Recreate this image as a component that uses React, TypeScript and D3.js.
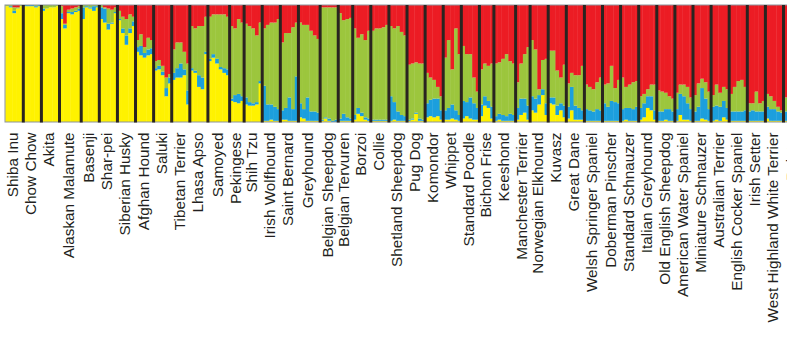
import React from 'react';
import * as d3 from 'd3';

const breeds = [
  'Shiba Inu', 'Chow Chow', 'Akita', 'Alaskan Malamute', 'Basenji', 'Shar-pei', 'Siberian Husky',
  'Afghan Hound', 'Saluki', 'Tibetan Terrier', 'Lhasa Apso', 'Samoyed', 'Pekingese', 'Shih Tzu',
  'Irish Wolfhound', 'Saint Bernard', 'Greyhound', 'Belgian Sheepdog', 'Belgian Tervuren', 'Borzoi',
  'Collie', 'Shetland Sheepdog', 'Pug Dog', 'Komondor', 'Whippet', 'Standard Poodle', 'Bichon Frise',
  'Keeshond', 'Manchester Terrier', 'Norwegian Elkhound', 'Kuvasz', 'Great Dane', 'Welsh Springer Spaniel',
  'Doberman Pinscher', 'Standard Schnauzer', 'Italian Greyhound', 'Old English Sheepdog',
  'American Water Spaniel', 'Miniature Schnauzer', 'Australian Terrier', 'English Cocker Spaniel',
  'Irish Setter', 'West Highland White Terrier', 'Pointer',
];

// per breed, per individual membership in each cluster (stacked bottom → top)
const yellowQ: number[][] = [
  [0.99, 0.98, 0.93, 0.97, 0.99],
  [0.99, 0.99, 0.99, 0.98, 0.99],
  [0.95, 0.97, 0.98, 0.98, 0.99],
  [0.88, 0.8, 0.93, 0.92, 0.94, 0.95],
  [0.88, 0.98, 0.97, 0.95, 0.98],
  [0.88, 0.85, 0.79, 0.84, 0.93],
  [0.87, 0.76, 0.66, 0.76, 0.82],
  [0.6, 0.57, 0.55, 0.57, 0.58],
  [0.44, 0.45, 0.4, 0.22, 0.33],
  [0.36, 0.38, 0.38, 0.4, 0.15],
  [0.44, 0.42, 0.3, 0.28, 0.58],
  [0.52, 0.55, 0.5, 0.45, 0.42, 0.4],
  [0.18, 0.17, 0.16, 0.18],
  [0.15, 0.14, 0.14, 0.15, 0.33],
  [0.01, 0.01, 0.02, 0.01, 0.01],
  [0.02, 0.02, 0.01, 0.01, 0.01],
  [0.04, 0.03, 0.01, 0.01, 0.01, 0.01],
  [0.01, 0.03, 0.01, 0, 0],
  [0.01, 0.01, 0.01, 0.01],
  [0.02, 0.07, 0.05, 0.02, 0.01],
  [0.01, 0.01, 0.01, 0.01, 0.01],
  [0.01, 0.02, 0.01, 0.01, 0.01],
  [0.01, 0.02, 0.07, 0.01, 0.01],
  [0.04, 0.05, 0.04, 0.05, 0.02],
  [0.02, 0.02, 0.03, 0.02, 0.01],
  [0.03, 0.05, 0.03, 0.02, 0.02],
  [0.05, 0.14, 0.12, 0.03],
  [0.01, 0.02, 0.01, 0.01, 0.01, 0.01],
  [0.02, 0.06, 0.08, 0.02],
  [0.1, 0.08, 0.15, 0.23, 0.06],
  [0.16, 0.15, 0.06, 0.1, 0.04],
  [0.03, 0.1, 0.02, 0.02, 0.02],
  [0.01, 0.01, 0.01, 0.01, 0.01],
  [0.01, 0.01, 0.01, 0.01, 0.01],
  [0.01, 0.02, 0.01, 0.01, 0.01],
  [0.02, 0.04, 0.12, 0.1, 0.02],
  [0.01, 0.01, 0.02, 0.01, 0.01],
  [0.01, 0.06, 0.02, 0.02, 0.01],
  [0.01, 0.01, 0.03, 0.02, 0.01],
  [0.01, 0.02, 0.01, 0.04, 0.02],
  [0.01, 0.01, 0.01, 0.01, 0.01],
  [0.01, 0.01, 0.01, 0.01, 0.01],
  [0.03, 0.01, 0.01, 0.01, 0.01],
  [0.01, 0.01, 0.01, 0.01, 0.01],
];

const blueQ: number[][] = [
  [0, 0.01, 0.02, 0, 0],
  [0.01, 0.01, 0.01, 0.01, 0.01],
  [0.02, 0, 0, 0, 0],
  [0.05, 0.03, 0.01, 0.02, 0.01, 0.02],
  [0.1, 0.01, 0.01, 0.04, 0.01],
  [0.1, 0.12, 0.05, 0.01, 0.01],
  [0.01, 0.04, 0.08, 0.04, 0.04],
  [0.04, 0.08, 0.04, 0.05, 0.05],
  [0.02, 0.03, 0.03, 0.07, 0.05],
  [0.06, 0.08, 0.12, 0.05, 0.12],
  [0.02, 0.02, 0.1, 0.1, 0.02],
  [0.02, 0.03, 0.04, 0.02, 0.04, 0.05],
  [0.02, 0.06, 0.08, 0.04],
  [0.06, 0.03, 0.02, 0.02, 0.02],
  [0.3, 0.14, 0.13, 0.12, 0.1],
  [0.08, 0.1, 0.2, 0.1, 0.38],
  [0.12, 0.08, 0.2, 0.08, 0.08, 0.07],
  [0.01, 0.01, 0.02, 0.01, 0.02],
  [0.02, 0.06, 0.03, 0.02],
  [0.04, 0.05, 0.03, 0.02, 0.02],
  [0.01, 0.01, 0.01, 0.01, 0.01],
  [0.21, 0.15, 0.08, 0.05, 0.04],
  [0.01, 0.01, 0.01, 0.02, 0.01],
  [0.12, 0.14, 0.16, 0.15, 0.08],
  [0.08, 0.1, 0.12, 0.08, 0.05],
  [0.15, 0.12, 0.18, 0.14, 0.1],
  [0.1, 0.08, 0.06, 0.1],
  [0.04, 0.05, 0.05, 0.04, 0.06, 0.05],
  [0.1, 0.14, 0.12, 0.12],
  [0.12, 0.12, 0.08, 0.05, 0.1],
  [0.05, 0.06, 0.08, 0.06, 0.1],
  [0.1, 0.2, 0.12, 0.1, 0.08],
  [0.1, 0.09, 0.08, 0.1, 0.09],
  [0.15, 0.12, 0.17, 0.16, 0.15],
  [0.1, 0.1, 0.11, 0.1, 0.12],
  [0.1, 0.12, 0.1, 0.12, 0.08],
  [0.08, 0.08, 0.09, 0.1, 0.08],
  [0.1, 0.18, 0.2, 0.14, 0.1],
  [0.08, 0.12, 0.26, 0.18, 0.1],
  [0.12, 0.12, 0.12, 0.14, 0.1],
  [0.08, 0.08, 0.08, 0.08, 0.09],
  [0.08, 0.09, 0.08, 0.08, 0.08],
  [0.1, 0.1, 0.1, 0.08, 0.07],
  [0.08, 0.07, 0.09, 0.08, 0.08],
];

const greenQ: number[][] = [
  [0.01, 0.01, 0.03, 0.01, 0.01],
  [0, 0, 0, 0.01, 0],
  [0.03, 0.03, 0.02, 0.02, 0.01],
  [0.06, 0.01, 0.02, 0.03, 0.03, 0.02],
  [0.02, 0.01, 0.02, 0.01, 0.01],
  [0.02, 0.01, 0.13, 0.11, 0.04],
  [0.07, 0.1, 0.14, 0.12, 0.04],
  [0.06, 0.1, 0.05, 0.1, 0.07],
  [0.06, 0.05, 0.05, 0.09, 0.03],
  [0.2, 0.22, 0.18, 0.15, 0.23],
  [0.36, 0.36, 0.42, 0.44, 0.3],
  [0.36, 0.34, 0.38, 0.45, 0.46, 0.45],
  [0.62, 0.57, 0.64, 0.63],
  [0.63, 0.65, 0.64, 0.57, 0.5],
  [0.49, 0.68, 0.7, 0.72, 0.77],
  [0.58, 0.64, 0.55, 0.7, 0.46],
  [0.69, 0.72, 0.62, 0.69, 0.65, 0.63],
  [0.96, 0.94, 0.95, 0.97, 0.96],
  [0.9, 0.8, 0.84, 0.86],
  [0.74, 0.6, 0.67, 0.66, 0.75],
  [0.76, 0.78, 0.78, 0.79, 0.81],
  [0.6, 0.63, 0.73, 0.71, 0.69],
  [0.47, 0.47, 0.43, 0.47, 0.48],
  [0.26, 0.19, 0.16, 0.1, 0.12],
  [0.45, 0.58, 0.3, 0.7, 0.52],
  [0.47, 0.41, 0.37, 0.22, 0.14],
  [0.3, 0.28, 0.3, 0.37],
  [0.45, 0.44, 0.48, 0.53, 0.45, 0.44],
  [0.22, 0.3, 0.38, 0.5],
  [0.48, 0.42, 0.05, 0.25, 0.38],
  [0.4, 0.4, 0.3, 0.22, 0.35],
  [0.2, 0.12, 0.26, 0.28, 0.38],
  [0.21, 0.2, 0.19, 0.23, 0.28],
  [0.16, 0.2, 0.3, 0.12, 0.2],
  [0.27, 0.18, 0.2, 0.23, 0.22],
  [0.1, 0.08, 0.06, 0.1, 0.22],
  [0.18, 0.17, 0.14, 0.11, 0.11],
  [0.14, 0.08, 0.1, 0.14, 0.1],
  [0.14, 0.2, 0.08, 0.14, 0.15],
  [0.1, 0.18, 0.12, 0.12, 0.16],
  [0.15, 0.21, 0.26, 0.27, 0.2],
  [0.07, 0.06, 0.17, 0.07, 0.09],
  [0.11, 0.11, 0.07, 0.04, 0.02],
  [0.12, 0.1, 0.08, 0.14, 0.1],
];

const redQ: number[][] = [
  [0, 0, 0.02, 0.02, 0],
  [0, 0, 0, 0, 0],
  [0, 0, 0, 0, 0],
  [0.01, 0.16, 0.04, 0.03, 0.02, 0.01],
  [0, 0, 0, 0, 0],
  [0, 0.02, 0.03, 0.04, 0.02],
  [0.05, 0.1, 0.12, 0.08, 0.1],
  [0.3, 0.25, 0.36, 0.28, 0.3],
  [0.48, 0.47, 0.52, 0.62, 0.59],
  [0.38, 0.32, 0.32, 0.4, 0.5],
  [0.18, 0.2, 0.18, 0.18, 0.1],
  [0.1, 0.08, 0.08, 0.08, 0.08, 0.1],
  [0.18, 0.2, 0.12, 0.15],
  [0.16, 0.18, 0.2, 0.26, 0.15],
  [0.2, 0.17, 0.15, 0.15, 0.12],
  [0.32, 0.24, 0.24, 0.19, 0.15],
  [0.15, 0.17, 0.17, 0.22, 0.26, 0.29],
  [0.02, 0.02, 0.02, 0.02, 0.02],
  [0.07, 0.13, 0.12, 0.11],
  [0.2, 0.28, 0.25, 0.3, 0.22],
  [0.22, 0.2, 0.2, 0.19, 0.17],
  [0.18, 0.2, 0.18, 0.23, 0.26],
  [0.51, 0.5, 0.49, 0.5, 0.5],
  [0.58, 0.62, 0.64, 0.7, 0.78],
  [0.45, 0.3, 0.55, 0.2, 0.42],
  [0.35, 0.42, 0.42, 0.62, 0.74],
  [0.55, 0.5, 0.52, 0.5],
  [0.5, 0.49, 0.46, 0.42, 0.48, 0.5],
  [0.66, 0.5, 0.42, 0.36],
  [0.3, 0.38, 0.72, 0.47, 0.46],
  [0.39, 0.39, 0.56, 0.62, 0.51],
  [0.67, 0.58, 0.6, 0.6, 0.52],
  [0.68, 0.7, 0.72, 0.66, 0.62],
  [0.68, 0.67, 0.52, 0.71, 0.64],
  [0.62, 0.7, 0.68, 0.66, 0.65],
  [0.78, 0.76, 0.72, 0.68, 0.68],
  [0.73, 0.74, 0.75, 0.78, 0.8],
  [0.75, 0.68, 0.68, 0.7, 0.79],
  [0.77, 0.67, 0.63, 0.66, 0.74],
  [0.77, 0.68, 0.75, 0.7, 0.72],
  [0.76, 0.7, 0.65, 0.64, 0.7],
  [0.84, 0.84, 0.74, 0.84, 0.82],
  [0.76, 0.78, 0.82, 0.87, 0.9],
  [0.79, 0.82, 0.82, 0.77, 0.81],
];

const clusterColors = ['#FFF200', '#1C9FDD', '#9CC63D', '#EC1C24'];

const W = 787;
const H = 338;
const PLOT_LEFT = 5.2;
const PLOT_TOP = 5;
const PLOT_BOTTOM = 122;
const VISIBLE_BREEDS = 43;

export default function App() {
  const counts = breeds.map((_, i) => yellowQ[i].length);
  const starts: number[] = [];
  let acc = 0;
  counts.forEach((c) => { starts.push(acc); acc += c; });
  const visibleInd = starts[VISIBLE_BREEDS];

  const x = d3.scaleLinear().domain([0, visibleInd]).range([PLOT_LEFT, 783.5]);
  const y = d3.scaleLinear().domain([0, 1]).range([PLOT_BOTTOM, PLOT_TOP]);

  const series = [yellowQ, blueQ, greenQ, redQ];

  const rects: React.ReactNode[] = [];
  breeds.forEach((_, b) => {
    for (let j = 0; j < counts[b]; j++) {
      const idx = starts[b] + j;
      const vals = series.map((s) => s[b][j]);
      const total = d3.sum(vals) || 1;
      let cum = 0;
      const x0 = x(idx);
      const x1 = x(idx + 1);
      vals.forEach((v, k) => {
        const q0 = cum / total;
        cum += v;
        const q1 = k === 3 ? 1 : cum / total;
        if (q1 - q0 <= 0) return;
        rects.push(
          <rect key={`${b}-${j}-${k}`} x={x0} width={x1 - x0 + 0.4} y={y(q1)} height={y(q0) - y(q1)} fill={clusterColors[k]} />
        );
      });
    }
  });

  const separators = breeds.slice(1).map((_, i) => {
    const bx = x(starts[i + 1]);
    return <rect key={`sep${i}`} x={bx - 1.5} width={3} y={PLOT_TOP} height={PLOT_BOTTOM - PLOT_TOP + 0.5} fill="#2A2420" />;
  });

  const labels = breeds.map((name, b) => {
    const cx = (x(starts[b]) + x(starts[b] + counts[b])) / 2;
    return (
      <text key={`lab${b}`} transform={`translate(${cx + 4},132.5) rotate(-90)`} textAnchor="end"
        fontFamily="'Liberation Sans', Arial, sans-serif" fontSize={15.3} fill="#231F20">{name}</text>
    );
  });

  return (
    <svg width={W} height={H} style={{ position: 'absolute', left: 0, top: 0, background: '#fff' }}>
      <rect x={0} y={0} width={W} height={H} fill="#fff" />
      <g>{rects}</g>
      <rect x={5} y={PLOT_TOP} width={W} height={PLOT_BOTTOM - PLOT_TOP} fill="none" stroke="#8C949C" strokeWidth={1} />
      <g>{separators}</g>
      <g>{labels}</g>
    </svg>
  );
}
